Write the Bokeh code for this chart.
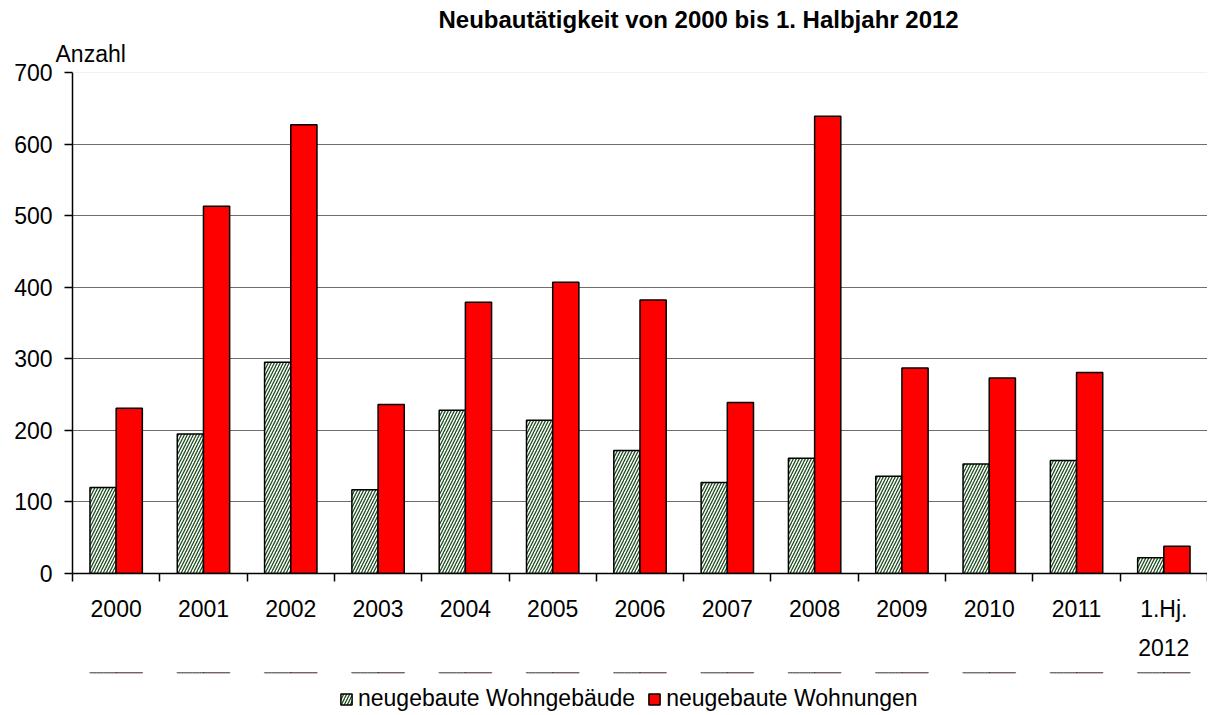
import numpy as np
from bokeh.plotting import figure
from bokeh.layouts import column
from bokeh.models import (Range1d, FixedTicker, Legend, LegendItem, Span, ColumnDataSource,
                          LinearAxis, Title)
from bokeh.embed import file_html
from bokeh.resources import INLINE

categories = ["2000", "2001", "2002", "2003", "2004", "2005", "2006", "2007",
              "2008", "2009", "2010", "2011", "1.Hj."]
second_line = {12: "2012"}
wohngebaeude = [120, 195, 295, 117, 228, 214, 172, 127, 161, 136, 153, 158, 22]
wohnungen = [231, 513, 627, 236, 379, 407, 382, 239, 639, 287, 273, 281, 38]
y_ticks = [0, 100, 200, 300, 400, 500, 600, 700]
series_labels = ["neugebaute Wohngebäude", "neugebaute Wohnungen"]

FONT = "Liberation Sans"
FS = "23px"
n = len(categories)
idx = np.arange(n)
centers = idx + 0.5

GREEN_STYLE = dict(fill_color="white", line_color="black", line_width=1.5, hatch_pattern="/",
                   hatch_color="#1e4d1e", hatch_scale=6, hatch_weight=1.3)
RED_STYLE = dict(fill_color="#ff0000", line_color="black", line_width=1.5)

p = figure(frame_width=1135, frame_height=501, output_backend="svg", toolbar_location=None,
           x_range=Range1d(0, n), y_range=Range1d(0, 700),
           min_border_left=72, min_border_right=0, min_border_top=72, min_border_bottom=99)
p.outline_line_color = None
p.background_fill_color = "white"

src_g = ColumnDataSource(dict(x=centers - 0.15, top=wohngebaeude))
src_r = ColumnDataSource(dict(x=centers + 0.15, top=wohnungen))

p.vbar(x="x", top="top", width=0.3, source=src_g, **GREEN_STYLE)
p.vbar(x="x", top="top", width=0.3, source=src_r, **RED_STYLE)

# x axis: labels at category centres, ticks at category borders
xa = p.xaxis[0]
xa.ticker = FixedTicker(ticks=[float(c) for c in centers], minor_ticks=list(range(0, n + 1)))
xa.major_label_overrides = {float(c): lab for c, lab in zip(centers, categories)}
xa.major_tick_line_color = None
xa.minor_tick_line_color = "black"
xa.minor_tick_line_width = 1.5
xa.minor_tick_out = 8
xa.minor_tick_in = 0
xa.axis_line_color = "black"
xa.axis_line_width = 1.5
xa.major_label_text_font = FONT
xa.major_label_text_font_size = FS
xa.major_label_text_color = "black"
xa.major_label_standoff = 14

# second label line ("2012")
xa2 = LinearAxis(ticker=FixedTicker(ticks=[float(centers[i]) for i in second_line]),
                 major_label_overrides={float(centers[i]): t for i, t in second_line.items()})
xa2.axis_line_color = None
xa2.major_tick_line_color = None
xa2.minor_tick_line_color = None
xa2.major_label_text_font = FONT
xa2.major_label_text_font_size = FS
xa2.major_label_text_color = "black"
xa2.major_label_standoff = 8
xa2.axis_label_standoff = 0
p.add_layout(xa2, "below")

ya = p.yaxis[0]
ya.ticker = FixedTicker(ticks=y_ticks)
ya.minor_tick_line_color = None
ya.major_tick_line_color = "black"
ya.major_tick_line_width = 1.5
ya.major_tick_out = 8
ya.major_tick_in = 0
ya.axis_line_color = "black"
ya.axis_line_width = 1.5
ya.major_label_text_font = FONT
ya.major_label_text_font_size = FS
ya.major_label_text_color = "black"
ya.major_label_standoff = 12

p.xgrid.grid_line_color = None
p.ygrid.ticker = FixedTicker(ticks=y_ticks[1:-1])
p.ygrid.grid_line_color = "#6e6e6e"
p.ygrid.grid_line_width = 1
p.add_layout(Span(location=y_ticks[-1], dimension="width", line_color="#e4e4e4", line_width=1))

p.add_layout(Title(text="Anzahl", align="left", offset=-17, standoff=12,
                   text_font=FONT, text_font_size=FS, text_font_style="normal",
                   text_color="black"), "above")
p.add_layout(Title(text="Neubautätigkeit von 2000 bis 1. Halbjahr 2012", align="left",
                   offset=366, standoff=0, text_font=FONT, text_font_size="24px",
                   text_font_style="bold", text_color="black"), "above")

# legend strip below the chart (its bars lie outside this strip's range, only the legend shows)
lg = figure(width=1207, height=50, output_backend="svg", toolbar_location=None,
            x_axis_type=None, y_axis_type=None, min_border=0,
            x_range=Range1d(0, n), y_range=Range1d(-2, -1))
lg.outline_line_color = None
lg.xgrid.grid_line_color = None
lg.ygrid.grid_line_color = None
lr_g = lg.vbar(x="x", top="top", width=0.3, source=src_g, **GREEN_STYLE)
lr_r = lg.vbar(x="x", top="top", width=0.3, source=src_r, **RED_STYLE)
legend = Legend(items=[LegendItem(label=series_labels[0], renderers=[lr_g]),
                       LegendItem(label=series_labels[1], renderers=[lr_r])],
                orientation="horizontal", location=(267, 10),
                label_text_font=FONT, label_text_font_size=FS, label_text_color="black",
                glyph_width=14, glyph_height=14, label_standoff=5, spacing=12,
                padding=0, margin=0, border_line_color=None, background_fill_alpha=0)
lg.add_layout(legend)

layout = column(p, lg, spacing=0)
open("out.html", "w").write(file_html(layout, INLINE))
